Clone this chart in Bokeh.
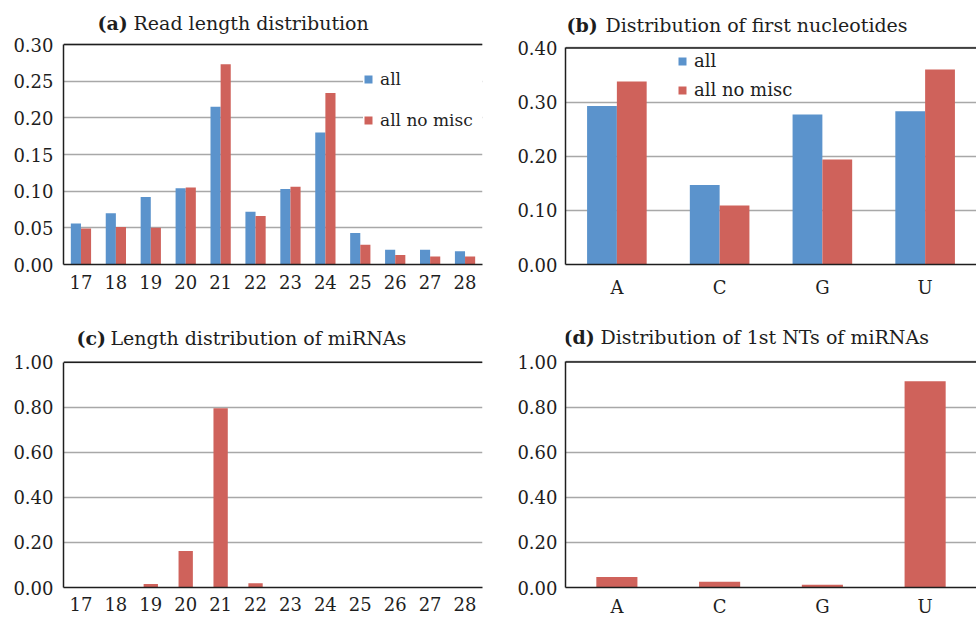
from bokeh.plotting import figure
from bokeh.models import (ColumnDataSource, FactorRange, Legend, LegendItem, Label, Span,
                          FixedTicker, NumeralTickFormatter)
from bokeh.layouts import column, row
from bokeh.transform import dodge
from bokeh.embed import file_html
from bokeh.resources import INLINE

# ---------------- data ----------------
lengths = ["17", "18", "19", "20", "21", "22", "23", "24", "25", "26", "27", "28"]
len_all = [0.056, 0.070, 0.092, 0.104, 0.215, 0.072, 0.103, 0.180, 0.043, 0.020, 0.020, 0.018]
len_nomisc = [0.049, 0.051, 0.050, 0.105, 0.273, 0.066, 0.106, 0.234, 0.027, 0.013, 0.011, 0.011]

nts = ["A", "C", "G", "U"]
nt_all = [0.293, 0.147, 0.277, 0.283]
nt_nomisc = [0.338, 0.109, 0.194, 0.360]

mirna_len = [0.0, 0.0, 0.015, 0.162, 0.796, 0.019, 0.0, 0.0, 0.0, 0.0, 0.0, 0.0]
mirna_nt = [0.047, 0.025, 0.012, 0.914]

yticks_a = [0.0, 0.05, 0.10, 0.15, 0.20, 0.25, 0.30]
yticks_b = [0.0, 0.10, 0.20, 0.30, 0.40]
yticks_cd = [0.0, 0.20, 0.40, 0.60, 0.80, 1.00]

series_names = ["all", "all no misc"]
titles = [("(a)", "Read length distribution"),
          ("(b)", "Distribution of first nucleotides"),
          ("(c)", "Length distribution of miRNAs"),
          ("(d)", "Distribution of 1st NTs of miRNAs")]

# ---------------- style ----------------
BLUE = "#5b93cc"
RED = "#cf625b"
GRID = "#a8a8a8"
INK = "#1e1e1e"
FONT = "DejaVu Serif"


def make_fig(cats, yticks, w, h, bl, br, bb, plot_top_px, ystand, xstand):
    # frame spans from the top of the figure down to the x axis; the value
    # axis occupies only the part below plot_top_px, leaving room for the title
    frame_h = h - bb
    data_h = frame_h - plot_top_px
    y_end = yticks[-1] * frame_h / data_h
    p = figure(x_range=FactorRange(*cats), y_range=(yticks[0], y_end),
               width=w, height=h, output_backend="svg", toolbar_location=None,
               min_border_left=bl, min_border_right=br, min_border_top=0,
               min_border_bottom=bb)
    p.outline_line_color = None
    p.background_fill_color = "white"
    p.border_fill_color = "white"
    p.xgrid.grid_line_color = None
    p.ygrid.grid_line_color = GRID
    p.ygrid.grid_line_width = 1.5
    p.yaxis.ticker = FixedTicker(ticks=yticks)
    p.yaxis.formatter = NumeralTickFormatter(format="0.00")
    p.yaxis.bounds = (yticks[0], yticks[-1])
    for ax in (p.xaxis[0], p.yaxis[0]):
        ax.axis_line_color = INK
        ax.axis_line_width = 1.5
        ax.major_tick_line_color = None
        ax.minor_tick_line_color = None
        ax.major_tick_in = 0
        ax.major_tick_out = 0
        ax.minor_tick_out = 0
        ax.major_label_text_font = FONT
        ax.major_label_text_font_size = "18px"
        ax.major_label_text_color = INK
    p.yaxis.major_label_standoff = ystand
    p.xaxis.major_label_standoff = xstand
    top = Span(location=yticks[-1], dimension="width", line_color=INK, line_width=1.5)
    p.add_layout(top)
    return p


def add_title(p, tag, text, x_tag, x_text, y):
    p.add_layout(Label(x=x_tag, y=y, x_units="screen", y_units="screen", text=tag,
                       text_font=FONT, text_font_style="bold", text_font_size="19px",
                       text_color=INK, text_baseline="middle"))
    p.add_layout(Label(x=x_text, y=y, x_units="screen", y_units="screen", text=text,
                       text_font=FONT, text_font_size="19px",
                       text_color=INK, text_baseline="middle"))


def add_legend(p, renderers, loc, padding, spacing, bg_alpha, fsize, standoff, lw):
    items = [LegendItem(label=n, renderers=[r]) for n, r in zip(series_names, renderers)]
    lg = Legend(items=items, location=loc, orientation="vertical", padding=padding,
                spacing=spacing, label_height=20, label_width=lw, glyph_height=10,
                glyph_width=10, label_standoff=standoff, border_line_color=None,
                background_fill_color="white", background_fill_alpha=bg_alpha,
                label_text_font=FONT, label_text_font_size=fsize,
                label_text_color=INK, margin=0)
    p.add_layout(lg)


# (a) read length distribution
pa = make_fig(lengths, yticks_a, 490, 310, 63, 8, 46, 44, 10, 10)
src_a = ColumnDataSource(dict(cat=lengths, all=len_all, nomisc=len_nomisc))
ra1 = pa.vbar(x=dodge("cat", -0.145, range=pa.x_range), top="all", width=0.29,
              source=src_a, fill_color=BLUE, line_color=None)
ra2 = pa.vbar(x=dodge("cat", 0.145, range=pa.x_range), top="nomisc", width=0.29,
              source=src_a, fill_color=RED, line_color=None)
add_legend(pa, [ra1, ra2], (300, 134), 14, 21, 1.0, "17px", 7, 120)
add_title(pa, titles[0][0], titles[0][1], 34, 70, 242)

# (b) first nucleotides
pb = make_fig(nts, yticks_b, 486, 310, 75, 0, 43, 48, 8, 12)
src_b = ColumnDataSource(dict(cat=nts, all=nt_all, nomisc=nt_nomisc))
rb1 = pb.vbar(x=dodge("cat", -0.145, range=pb.x_range), top="all", width=0.29,
              source=src_b, fill_color=BLUE, line_color=None)
rb2 = pb.vbar(x=dodge("cat", 0.145, range=pb.x_range), top="nomisc", width=0.29,
              source=src_b, fill_color=RED, line_color=None)
add_legend(pb, [rb1, rb2], (112, 164), 0, 8, 0.0, "18px", 7, 20)
add_title(pb, titles[1][0], titles[1][1], 1, 40, 240)

# (c) miRNA length distribution
pc = make_fig(lengths, yticks_cd, 490, 309, 63, 8, 31, 52, 10, 9)
src_c = ColumnDataSource(dict(cat=lengths, val=mirna_len))
pc.vbar(x="cat", top="val", width=0.41, source=src_c, fill_color=RED, line_color=None)
add_title(pc, titles[2][0], titles[2][1], 13, 47, 250)

# (d) miRNA first nucleotides
pd_ = make_fig(nts, yticks_cd, 486, 309, 75, 0, 29, 52, 8, 8)
src_d = ColumnDataSource(dict(cat=nts, val=mirna_nt))
pd_.vbar(x="cat", top="val", width=0.40, source=src_d, fill_color=RED, line_color=None)
add_title(pd_, titles[3][0], titles[3][1], -2, 35, 251)

layout = column(row(pa, pb, spacing=0), row(pc, pd_, spacing=0), spacing=0)

with open("out.html", "w") as f:
    f.write(file_html(layout, INLINE))
